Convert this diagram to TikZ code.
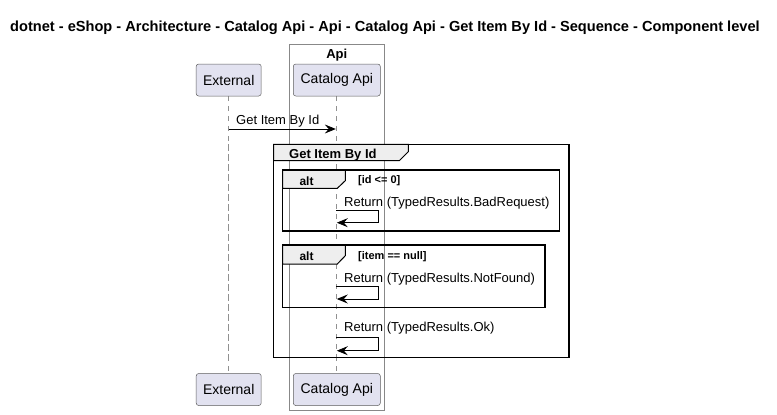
\documentclass[tikz,border=0pt]{standalone}
\usepackage{fontspec}
\setmainfont{Liberation Sans}
\usetikzlibrary{arrows.meta}
\definecolor{partfill}{HTML}{E2E2F0}
\definecolor{partline}{HTML}{181818}
\definecolor{boxline}{HTML}{888888}
\definecolor{tabfill}{HTML}{EEEEEE}
\definecolor{lifeline}{HTML}{909090}
\tikzset{
  part/.style={draw=partline!70, fill=partfill, rounded corners=2.5pt, line width=0.5pt, minimum width=#1, minimum height=32pt, inner sep=0pt, font=\fontsize{14}{16}\selectfont},
  lifel/.style={draw=lifeline, line width=0.5pt, dash pattern=on 5pt off 5pt},
  msg/.style={draw=black, line width=0.8pt, -{Stealth[length=11pt,width=9pt,inset=4pt]}},
  msgtxt/.style={anchor=base west, inner sep=0pt, font=\fontsize{13}{15}\selectfont},
  grpframe/.style={draw=black, line width=1.5pt},
  tabtxt/.style={anchor=base west, inner sep=0pt, font=\bfseries\fontsize{13}{15}\selectfont},
  alttxt/.style={anchor=base west, inner sep=0pt, font=\bfseries\fontsize{12}{14}\selectfont},
  condtxt/.style={anchor=base west, inner sep=0pt, font=\bfseries\fontsize{11}{13}\selectfont},
}
\begin{document}
\begin{tikzpicture}[x=1pt,y=-1pt]
\useasboundingbox (0,0) rectangle (777,415);
% title
\node[anchor=base west, inner sep=0pt, font=\bfseries\fontsize{14.6}{17}\selectfont] (title) at (10,31.5) {dotnet - eShop - Architecture - Catalog Api - Api - Catalog Api - Get Item By Id - Sequence - Component level};
% Api box
\draw[draw=boxline, line width=0.6pt] (289.3,44.3) rectangle (384.3,410);
\node[anchor=base, inner sep=0pt, font=\bfseries\fontsize{13}{15}\selectfont] (apilbl) at (336.8,58.3) {Api};
% lifeline coordinates
\coordinate (extTop) at (228.7,96);
\coordinate (extBot) at (228.7,374);
\coordinate (catTop) at (336.3,96);
\coordinate (catBot) at (336.3,374);
\draw[lifel] (extTop) -- (extBot);
\draw[lifel] (catTop) -- (catBot);
% participants
\node[part=65pt] (ext1) at (228.7,80) {External};
\node[part=87pt] (cat1) at (336.8,80) {Catalog Api};
\node[part=65pt] (ext2) at (228.7,389.5) {External};
\node[part=87pt] (cat2) at (336.8,389.5) {Catalog Api};
% message 1
\coordinate (m1s) at (228.7,129);
\coordinate (m1e) at (335.8,129);
\draw[msg] (m1s) -- (m1e);
\node[msgtxt] (m1t) at (236,124.5) {Get Item By Id};
% group frame
\fill[white] (273.7,144.3) rectangle (569,357.3);
\draw[lifel] (228.7,144.3) -- (228.7,357.3);
\draw[lifel] (336.3,144.3) -- (336.3,357.3);
\draw[draw=boxline, line width=0.6pt] (289.3,144.3) -- (289.3,357.3) (384.3,144.3) -- (384.3,357.3);
\filldraw[fill=tabfill, draw=black, line width=1pt] (273.7,144.3) -- (408.3,144.3) -- (408.3,151.7) -- (399.3,160.7) -- (273.7,160.7) -- cycle;
\draw[grpframe] (273.7,144.3) rectangle (569,357.3);
\node[tabtxt] (gt) at (289,158.3) {Get Item By Id};
% alt 1
\filldraw[fill=tabfill, draw=black, line width=1pt] (282.7,170) -- (345.3,170) -- (345.3,180.7) -- (337.3,188.3) -- (282.7,188.3) -- cycle;
\draw[grpframe] (282.7,170) rectangle (559.3,231);
\node[alttxt] (a1t) at (299.3,185) {alt};
\node[condtxt] (a1c) at (358,183.8) {[id <= 0]};
\coordinate (r1a) at (336.3,210.7);
\coordinate (r1b) at (378.7,210.7);
\coordinate (r1c) at (378.7,222.7);
\coordinate (r1d) at (336.8,222.7);
\draw[msg] (r1a) -- (r1b) -- (r1c) -- (r1d);
\node[msgtxt] (r1t) at (344,206.7) {Return (TypedResults.BadRequest)};
% alt 2
\filldraw[fill=tabfill, draw=black, line width=1pt] (282.7,245) -- (345.3,245) -- (345.3,255.7) -- (337.3,264) -- (282.7,264) -- cycle;
\draw[grpframe] (282.7,245) rectangle (545,307.3);
\node[alttxt] (a2t) at (299.3,260.5) {alt};
\node[condtxt] (a2c) at (358,259.3) {[item == null]};
\coordinate (r2a) at (336.3,286.3);
\coordinate (r2b) at (378.7,286.3);
\coordinate (r2c) at (378.7,299);
\coordinate (r2d) at (336.8,299);
\draw[msg] (r2a) -- (r2b) -- (r2c) -- (r2d);
\node[msgtxt] (r2t) at (344,282.3) {Return (TypedResults.NotFound)};
% return 3
\coordinate (r3a) at (336.3,337.3);
\coordinate (r3b) at (378.7,337.3);
\coordinate (r3c) at (378.7,350.7);
\coordinate (r3d) at (336.8,350.7);
\draw[msg] (r3a) -- (r3b) -- (r3c) -- (r3d);
\node[msgtxt] (r3t) at (344,331.7) {Return (TypedResults.Ok)};
\end{tikzpicture}
\end{document}
